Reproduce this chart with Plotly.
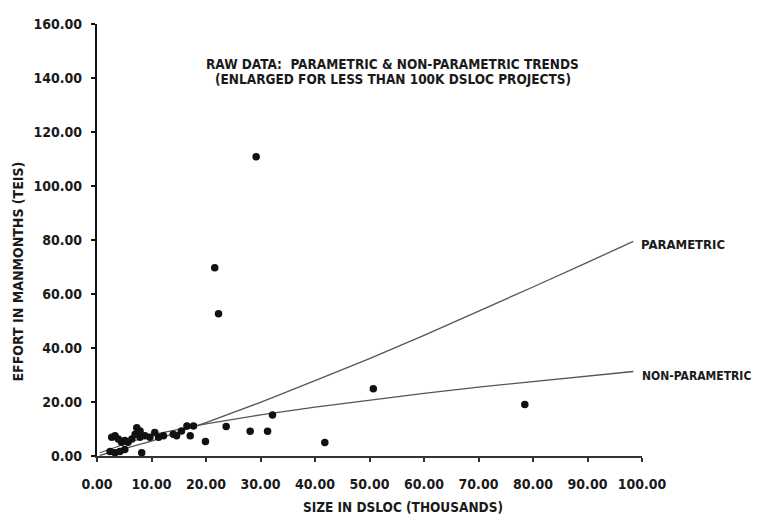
import plotly.graph_objects as go

# ---- data ----
size_kdsloc = [2.7, 3.3, 3.9, 4.5, 5.1, 5.7, 6.4, 7.0, 7.3, 7.9, 7.9, 8.8, 9.7, 10.6,
               11.3, 12.2, 14.0, 14.6, 15.5, 16.5, 17.1, 17.7, 2.4, 3.3, 4.2, 5.1, 8.2,
               19.9, 21.6, 22.3, 23.7, 28.1, 29.2, 31.3, 32.2, 41.8, 50.7, 78.5]
effort_mm = [6.9, 7.5, 6.3, 5.1, 5.7, 5.1, 6.3, 8.1, 10.5, 9.3, 6.9, 7.5, 6.9, 8.7,
             6.9, 7.5, 8.1, 7.5, 9.3, 11.1, 7.5, 11.1, 1.7, 1.2, 1.7, 2.4, 1.2,
             5.4, 69.7, 52.7, 10.9, 9.2, 110.8, 9.2, 15.2, 5.0, 24.9, 19.1]

trend_x = [0.5, 10, 20, 30, 40, 50, 60, 70, 80, 90, 98.4]
parametric_y = [0.2, 5.5, 12.4, 19.9, 27.9, 36.1, 44.7, 53.5, 62.6, 71.7, 79.5]
nonparametric_y = [1.2, 7.8, 11.9, 15.2, 18.1, 20.7, 23.2, 25.5, 27.6, 29.7, 31.3]

x_ticks = [0, 10, 20, 30, 40, 50, 60, 70, 80, 90, 100]
x_tick_labels = ["0.00", "10.00", "20.00", "30.00", "40.00", "50.00", "60.00",
                 "70.00", "80.00", "90.00", "100.00"]
y_ticks = [0, 20, 40, 60, 80, 100, 120, 140, 160]
y_tick_labels = ["0.00", "20.00", "40.00", "60.00", "80.00", "100.00", "120.00",
                 "140.00", "160.00"]

FONT = "DejaVu Sans Condensed"
INK = "#1a1a1a"

fig = go.Figure()
fig.add_trace(go.Scatter(x=trend_x, y=parametric_y, mode="lines",
                         line=dict(color="#555555", width=1.3), showlegend=False,
                         cliponaxis=False))
fig.add_trace(go.Scatter(x=trend_x, y=nonparametric_y, mode="lines",
                         line=dict(color="#555555", width=1.3), showlegend=False,
                         cliponaxis=False))
fig.add_trace(go.Scatter(x=size_kdsloc, y=effort_mm, mode="markers",
                         marker=dict(color="#111111", size=7.5, symbol="circle"),
                         showlegend=False, cliponaxis=False))

fig.update_layout(
    width=761, height=523,
    margin=dict(l=89, r=127, t=8, b=75),
    paper_bgcolor="white", plot_bgcolor="white",
    xaxis=dict(range=[0, 100], tickvals=x_ticks, ticktext=x_tick_labels,
               showgrid=False, zeroline=False, showline=True,
               linecolor="#333333", linewidth=1.5,
               ticks="outside", ticklen=4, tickwidth=2, tickcolor="#333333",
               ticklabelstandoff=10, ticklabeloverflow="allow",
               tickfont=dict(family=FONT, size=14, color=INK, weight="bold")),
    yaxis=dict(range=[0, 160], tickvals=y_ticks, ticktext=y_tick_labels,
               showgrid=False, zeroline=False, showline=True,
               linecolor="#111111", linewidth=2.2,
               ticks="outside", ticklen=4, tickwidth=2, tickcolor="#111111",
               ticklabelstandoff=6, ticklabeloverflow="allow",
               tickfont=dict(family=FONT, size=14, color=INK, weight="bold")),
    annotations=[
        dict(x=54.3, y=145.1, xref="x", yref="y", showarrow=False,
             text="RAW DATA:  PARAMETRIC &amp; NON-PARAMETRIC TRENDS",
             font=dict(family=FONT, size=13.5, color=INK, weight="bold")),
        dict(x=54.3, y=139.6, xref="x", yref="y", showarrow=False,
             text="(ENLARGED FOR LESS THAN 100K DSLOC PROJECTS)",
             font=dict(family=FONT, size=13.5, color=INK, weight="bold")),
        dict(x=99.4, y=78.2, xref="x", yref="y", showarrow=False, xanchor="left",
             text="PARAMETRIC",
             font=dict(family=FONT, size=13, color=INK, weight="bold")),
        dict(x=99.6, y=29.8, xref="x", yref="y", showarrow=False, xanchor="left",
             text="NON-PARAMETRIC",
             font=dict(family=FONT, size=12, color=INK, weight="bold")),
        dict(x=0.561, y=-0.118, xref="paper", yref="paper", showarrow=False,
             xanchor="center", yanchor="middle",
             text="SIZE IN DSLOC (THOUSANDS)",
             font=dict(family=FONT, size=13.5, color=INK, weight="bold")),
        dict(x=-0.145, y=0.427, xref="paper", yref="paper", showarrow=False,
             xanchor="center", yanchor="middle", textangle=-90,
             text="EFFORT IN MANMONTHS (TEIS)",
             font=dict(family=FONT, size=14, color=INK, weight="bold")),
    ],
)

fig.write_html("out.html")
